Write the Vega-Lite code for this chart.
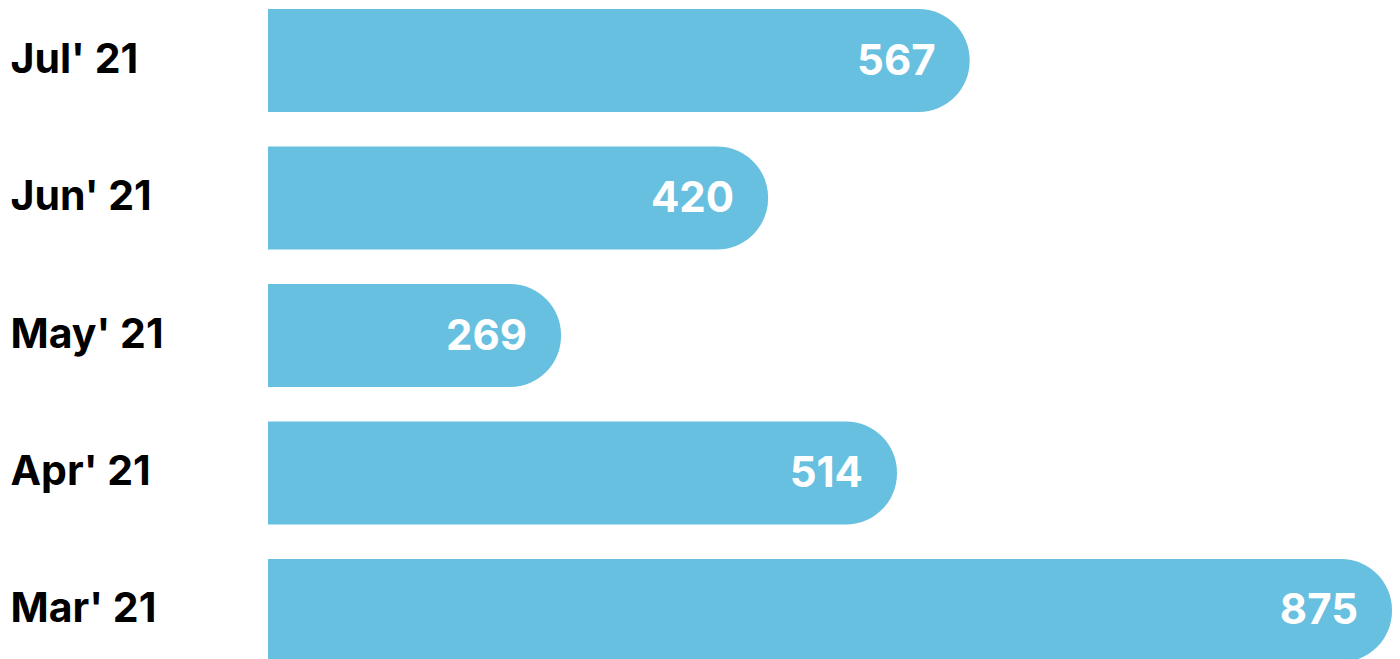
{
  "$schema": "https://vega.github.io/schema/vega-lite/v6.json",
  "autosize": {"type": "none"},
  "width": 1124,
  "height": 671,
  "padding": {"left": 268, "top": 0, "right": 8, "bottom": 0},
  "background": "white",
  "config": {"view": {"stroke": null}},
  "data": {"values": [
    {"month": "Jul' 21", "count": 567},
    {"month": "Jun' 21", "count": 420},
    {"month": "May' 21", "count": 269},
    {"month": "Apr' 21", "count": 514},
    {"month": "Mar' 21", "count": 875}
  ]},
  "encoding": {
    "y": {
      "field": "month", "type": "nominal",
      "sort": ["Jul' 21", "Jun' 21", "May' 21", "Apr' 21", "Mar' 21"],
      "scale": {"paddingInner": 0.25, "paddingOuter": 0.0655},
      "axis": {
        "title": null, "domain": false, "ticks": false, "tickSize": 0,
        "labelPadding": 258, "labelAlign": "left", "labelBaseline": "middle",
        "labelFont": "Inter", "labelFontWeight": 700, "labelFontSize": 41,
        "labelColor": "#000000", "labelLimit": 300
      }
    }
  },
  "layer": [
    {
      "mark": {"type": "bar", "color": "#67C0DF", "cornerRadiusTopRight": 51, "cornerRadiusBottomRight": 51},
      "encoding": {
        "x": {"field": "count", "type": "quantitative",
          "scale": {"domain": [55.3, 875], "zero": false, "nice": false},
          "axis": null},
        "x2": {"datum": 55.3}
      }
    },
    {
      "mark": {"type": "text", "align": "right", "baseline": "middle", "dx": -34, "dy": 1,
        "font": "Inter", "fontWeight": 700, "fontSize": 42, "color": "white"},
      "encoding": {
        "x": {"field": "count", "type": "quantitative"},
        "text": {"field": "count", "type": "quantitative"}
      }
    }
  ]
}
